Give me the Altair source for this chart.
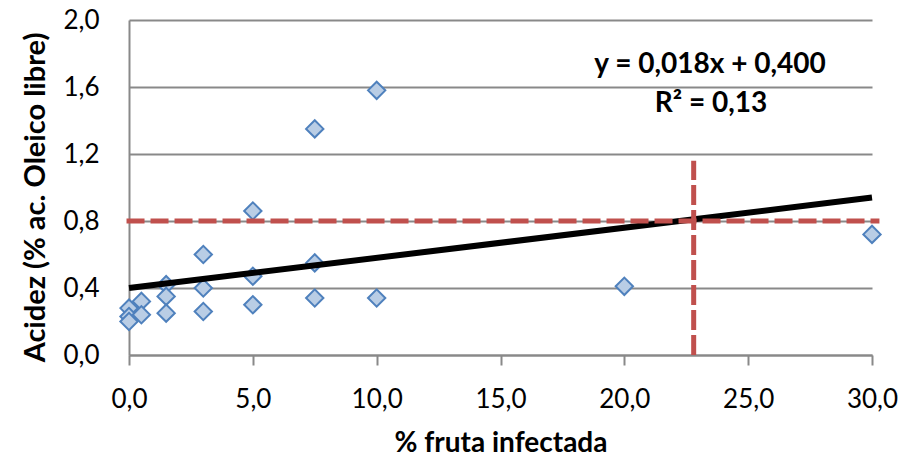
import altair as alt
import pandas as pd

# Observed points
infected = [0, 0, 0, 0.5, 0.5, 1.5, 1.5, 1.5, 3, 3, 3, 5, 5, 5, 7.5, 7.5, 7.5, 10, 10, 20, 30]
acidity = [0.28, 0.23, 0.20, 0.32, 0.24, 0.42, 0.35, 0.25, 0.60, 0.40, 0.26,
           0.86, 0.47, 0.30, 1.35, 0.55, 0.34, 1.58, 0.34, 0.41, 0.72]

# Trend line (y = 0,018x + 0,400)
trend_x = [0, 30]
trend_y = [0.400, 0.940]

# Reference lines
limit_h_x = [-0.1, 30.3]
limit_h_y = [0.8, 0.8]
limit_v_x = [22.8, 22.8]
limit_v_y = [0.0, 1.16]

# Annotation
ann_text = ["y = 0,018x + 0,400", "R² = 0,13"]
ann_x = [23.46, 23.5]
ann_y = [1.73, 1.50]

FONT = "Lato"
GRAY = "#898989"
RED = "#c0504d"

pts = pd.DataFrame({"x": infected, "y": acidity})
trend = pd.DataFrame({"x": trend_x, "y": trend_y})
hline = pd.DataFrame({"x": limit_h_x, "y": limit_h_y})
vline = pd.DataFrame({"x": limit_v_x, "y": limit_v_y})
ann = pd.DataFrame({"t": ann_text, "x": ann_x, "y": ann_y})

xscale = alt.Scale(domain=[0, 30], nice=False)
yscale = alt.Scale(domain=[0, 2], nice=False)

xaxis = alt.Axis(
    title="% fruta infectada",
    values=[0, 5, 10, 15, 20, 25, 30],
    labelExpr="replace(format(datum.value, '.1f'), '.', ',')",
    grid=False,
    labelFlush=False, labelOverlap=False,
    tickSize=10, tickColor=GRAY, tickWidth=2,
    domainColor=GRAY, domainWidth=2,
    labelFont=FONT, labelFontSize=26, labelColor="#000000", labelPadding=21,
    titleFont=FONT, titleFontSize=28, titleFontWeight="bold", titleColor="#000000",
    titleY=96, titleBaseline="alphabetic", titleAlign="center",
)
yaxis = alt.Axis(
    title="Acidez (% ac. Oleico libre)",
    values=[0, 0.4, 0.8, 1.2, 1.6, 2.0],
    labelExpr="replace(format(datum.value, '.1f'), '.', ',')",
    grid=True, gridColor=GRAY, gridWidth=2,
    ticks=False, labelOverlap=False, labelFlush=False,
    domainColor=GRAY, domainWidth=2,
    labelFont=FONT, labelFontSize=26, labelColor="#000000", labelPadding=30,
    titleFont=FONT, titleFontSize=29, titleFontWeight="bold", titleColor="#000000",
    titleX=-94, titleY=177, titleAngle=270, titleBaseline="middle", titleAlign="center",
)

points = alt.Chart(pts).mark_point(
    shape="diamond", size=300, filled=True, fill="#b9cde5", stroke="#4f81bd",
    strokeWidth=2, opacity=1,
).encode(
    x=alt.X("x:Q", scale=xscale, axis=xaxis),
    y=alt.Y("y:Q", scale=yscale, axis=yaxis),
)

trend_line = alt.Chart(trend).mark_line(color="#000000", strokeWidth=6).encode(
    x=alt.X("x:Q", scale=xscale), y=alt.Y("y:Q", scale=yscale)
)

h_line = alt.Chart(hline).mark_line(color=RED, strokeWidth=5, strokeDash=[18, 6]).encode(
    x=alt.X("x:Q", scale=xscale), y=alt.Y("y:Q", scale=yscale)
)
v_line = alt.Chart(vline).mark_line(color=RED, strokeWidth=5, strokeDash=[20, 5]).encode(
    x=alt.X("x:Q", scale=xscale), y=alt.Y("y:Q", scale=yscale)
)

text = alt.Chart(ann).mark_text(
    font=FONT, fontSize=28, fontWeight="bold", color="#000000", align="center", baseline="middle"
).encode(
    x=alt.X("x:Q", scale=xscale), y=alt.Y("y:Q", scale=yscale), text="t:N"
)

chart = alt.layer(points, trend_line, h_line, v_line, text).properties(
    width=743, height=335,
    autosize=alt.AutoSizeParams(type="none"),
    padding={"left": 129, "top": 20, "right": 51, "bottom": 103},
    background="white",
).configure_view(stroke=None)

chart.save("out.html", embed_options={"renderer": "svg", "actions": False})
